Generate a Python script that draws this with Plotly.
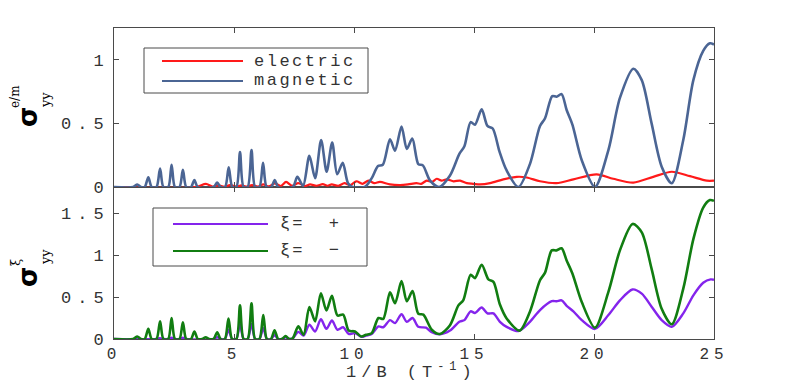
import plotly.graph_objects as go

# ---- top panel: sigma_yy^{e/m} ----
ele_x = [0.0, 3.4, 3.83, 4.1, 4.35, 4.6, 4.83, 5.1, 5.3, 5.55, 5.75, 6.0, 6.22, 6.45, 6.71,
         6.95, 7.17, 7.42, 7.68, 7.95, 8.17, 8.44, 8.7, 8.9, 9.07, 9.35, 9.6, 9.85, 10.1,
         10.35, 10.6, 10.85, 11.08, 11.5, 11.92, 12.25, 12.6, 12.8, 13.03, 13.25, 13.45,
         13.65, 13.86, 14.15, 14.42, 14.7, 14.97, 15.25, 15.67, 16.22, 16.78, 17.2, 17.75,
         18.44, 19.14, 20.11, 20.8, 21.64, 22.47, 23.24, 24.0, 24.7, 25.0]
ele_y = [0.0, 0.0, 0.025, 0.003, 0.012, 0.002, 0.015, 0.003, 0.012, 0.003, 0.015, 0.004,
         0.02, 0.005, 0.028, 0.008, 0.04, 0.01, 0.03, 0.008, 0.02, 0.01, 0.022, 0.01, 0.02,
         0.01, 0.03, 0.015, 0.045, 0.025, 0.05, 0.03, 0.04, 0.02, 0.015, 0.02, 0.03, 0.025,
         0.05, 0.04, 0.065, 0.05, 0.06, 0.045, 0.05, 0.03, 0.025, 0.02, 0.03, 0.06, 0.08,
         0.075, 0.045, 0.03, 0.06, 0.10, 0.065, 0.035, 0.08, 0.12, 0.085, 0.05, 0.05]

mag_x = [0.0, 0.8, 0.97, 1.12, 1.28, 1.43, 1.57, 1.77, 1.92, 2.06, 2.26, 2.40, 2.54, 2.73,
         2.87, 3.01, 3.21, 3.35, 3.49, 4.15, 4.30, 4.44, 4.63, 4.78, 4.93, 5.10, 5.25, 5.40,
         5.57, 5.73, 5.88, 6.06, 6.21, 6.36, 6.55, 6.70, 6.84, 7.45, 7.64, 7.88, 8.14, 8.38,
         8.63, 8.86, 9.09, 9.30, 9.53, 9.75, 9.95, 10.45, 10.74, 11.0, 11.2, 11.5, 11.71,
         11.98, 12.2, 12.43, 12.68, 12.87, 13.17, 13.55, 14.0, 14.39, 14.6, 14.86, 15.04,
         15.32, 15.56, 15.78, 16.06, 16.36, 16.85, 17.33, 17.75, 17.96, 18.26, 18.44, 18.65,
         18.86, 19.1, 19.49, 20.04, 20.6, 21.08, 21.64, 21.99, 22.4, 22.82, 23.24, 23.72,
         24.14, 24.55, 24.83, 25.0]
mag_y = [0.0, 0.0, 0.02, 0.0, 0.0, 0.077, 0.0, 0.0, 0.145, 0.0, 0.0, 0.175, 0.0, 0.0,
         0.135, 0.0, 0.0, 0.055, 0.0, 0.0, 0.035, 0.0, 0.0, 0.155, 0.0, 0.0, 0.275, 0.0,
         0.0, 0.29, 0.0, 0.0, 0.19, 0.0, 0.0, 0.055, 0.0, 0.0, 0.08, 0.01, 0.245, 0.07,
         0.37, 0.12, 0.35, 0.10, 0.19, 0.03, 0.0, 0.0, 0.07, 0.165, 0.175, 0.375, 0.285,
         0.475, 0.30, 0.38, 0.18, 0.17, 0.05, 0.0, 0.09, 0.26, 0.32, 0.51, 0.49, 0.61,
         0.48, 0.46, 0.28, 0.13, 0.0, 0.18, 0.48, 0.54, 0.715, 0.71, 0.73, 0.605, 0.49,
         0.21, 0.0, 0.29, 0.70, 0.93, 0.84, 0.50, 0.16, 0.03, 0.37, 0.84, 1.07, 1.13, 1.12]

# ---- bottom panel: sigma_yy^xi ----
plus_x = [0.0, 1.77, 1.92, 2.06, 2.26, 2.40, 2.54, 2.73, 2.87, 3.01, 4.15, 4.30, 4.44, 4.62,
          4.77, 4.92, 5.10, 5.25, 5.40, 5.57, 5.73, 5.88, 6.06, 6.22, 6.37, 6.54, 6.69, 6.84,
          7.0, 7.15, 7.3, 7.45, 7.68, 7.9, 8.14, 8.38, 8.62, 8.85, 9.08, 9.31, 9.55, 9.78,
          10.04, 10.32, 10.5, 10.74, 11.02, 11.22, 11.5, 11.71, 11.98, 12.2, 12.44, 12.68,
          13.0, 13.24, 13.58, 14.0, 14.39, 14.6, 14.86, 15.04, 15.32, 15.56, 15.81, 16.08,
          16.36, 16.85, 17.33, 17.75, 18.24, 18.44, 18.65, 18.86, 19.14, 19.49, 20.04, 20.6,
          21.08, 21.6, 21.99, 22.4, 22.82, 23.24, 23.72, 24.14, 24.55, 24.86, 25.0]
plus_y = [0.0, 0.0, 0.01, 0.0, 0.0, 0.015, 0.0, 0.0, 0.015, 0.0, 0.0, 0.02, 0.0, 0.0, 0.11,
          0.0, 0.0, 0.18, 0.0, 0.0, 0.18, 0.0, 0.0, 0.13, 0.0, 0.0, 0.045, 0.0, 0.0, 0.02,
          0.0, 0.01, 0.085, 0.04, 0.17, 0.09, 0.235, 0.12, 0.22, 0.11, 0.14, 0.06, 0.07,
          0.025, 0.04, 0.06, 0.15, 0.14, 0.225, 0.19, 0.295, 0.205, 0.25, 0.145, 0.135, 0.08,
          0.055, 0.10, 0.205, 0.225, 0.33, 0.31, 0.375, 0.305, 0.305, 0.205, 0.145, 0.095,
          0.205, 0.345, 0.45, 0.45, 0.46, 0.395, 0.33, 0.225, 0.12, 0.285, 0.46, 0.59, 0.54,
          0.385, 0.225, 0.145, 0.305, 0.52, 0.67, 0.71, 0.705]

minus_x = [0.0, 0.8, 0.97, 1.12, 1.28, 1.43, 1.57, 1.77, 1.92, 2.06, 2.26, 2.40, 2.54, 2.73,
           2.87, 3.01, 3.21, 3.35, 3.49, 3.68, 3.82, 3.96, 4.15, 4.30, 4.44, 4.62, 4.77, 4.92,
           5.10, 5.25, 5.40, 5.57, 5.73, 5.88, 6.06, 6.22, 6.37, 6.54, 6.69, 6.84, 7.0, 7.15,
           7.3, 7.45, 7.68, 7.9, 8.14, 8.38, 8.62, 8.85, 9.08, 9.31, 9.55, 9.78, 10.04, 10.3,
           10.5, 10.74, 11.02, 11.22, 11.5, 11.71, 11.98, 12.2, 12.44, 12.68, 12.89, 13.24,
           13.58, 14.0, 14.35, 14.55, 14.86, 15.04, 15.32, 15.6, 15.81, 16.08, 16.36, 16.9,
           17.33, 17.75, 17.96, 18.24, 18.44, 18.65, 18.86, 19.1, 19.49, 20.04, 20.6, 21.08,
           21.61, 21.99, 22.4, 22.82, 23.24, 23.72, 24.14, 24.55, 24.83, 25.0]
minus_y = [0.0, 0.0, 0.03, 0.0, 0.0, 0.12, 0.0, 0.0, 0.21, 0.0, 0.0, 0.25, 0.0, 0.0, 0.20,
           0.0, 0.0, 0.09, 0.0, 0.0, 0.02, 0.0, 0.0, 0.08, 0.0, 0.0, 0.245, 0.0, 0.0, 0.40,
           0.0, 0.0, 0.425, 0.0, 0.0, 0.285, 0.0, 0.0, 0.105, 0.0, 0.0, 0.035, 0.0, 0.01,
           0.15, 0.05, 0.38, 0.21, 0.545, 0.34, 0.515, 0.28, 0.29, 0.10, 0.09, 0.03, 0.05,
           0.07, 0.25, 0.24, 0.555, 0.425, 0.69, 0.45, 0.57, 0.30, 0.29, 0.11, 0.06, 0.165,
           0.40, 0.46, 0.765, 0.725, 0.885, 0.71, 0.68, 0.41, 0.245, 0.10, 0.325, 0.70, 0.79,
           1.055, 1.055, 1.08, 0.935, 0.78, 0.44, 0.135, 0.56, 1.055, 1.37, 1.27, 0.835, 0.36,
           0.175, 0.60, 1.19, 1.565, 1.655, 1.645]

x_ticks = [0, 5, 10, 15, 20, 25]
top_ticks = [0, 0.5, 1]
bot_ticks = [0, 0.5, 1, 1.5]

RED = "#ff1a1a"
BLUE = "#4b6594"
PURPLE = "#8424ec"
GREEN = "#117d11"
AXIS = "#4a4a4a"
TXT = "#333333"
MONO = "Liberation Mono, Courier New, monospace"

# plot area in window pixels; the page body adds an 8px margin
OFF = 8
L, R, T, B = 114, 714, 28, 339


def px(x):
    return (x - L) / (R - L)


def py(y):
    return (B - y) / (B - T)


def spaced(s, gap):
    return f"<span style='letter-spacing:{gap}px'>{s}</span>"


fig = go.Figure()

fig.add_trace(go.Scatter(x=ele_x, y=ele_y, mode="lines", line=dict(color=RED, width=2.2, shape="spline", smoothing=0.8),
                         xaxis="x2", yaxis="y2", name="electric"))
fig.add_trace(go.Scatter(x=mag_x, y=mag_y, mode="lines", line=dict(color=BLUE, width=2.6, shape="spline", smoothing=0.8),
                         xaxis="x2", yaxis="y2", name="magnetic"))
fig.add_trace(go.Scatter(x=plus_x, y=plus_y, mode="lines", line=dict(color=PURPLE, width=2.4, shape="spline", smoothing=0.8),
                         name="xi=+"))
fig.add_trace(go.Scatter(x=minus_x, y=minus_y, mode="lines", line=dict(color=GREEN, width=2.6, shape="spline", smoothing=0.8),
                         name="xi=-"))

axis_common = dict(
    showline=True, linecolor=AXIS, linewidth=1, mirror="ticks",
    ticks="inside", ticklen=5, tickcolor=AXIS,
    showgrid=False, zeroline=False,
    tickfont=dict(family=MONO, size=17, color=TXT),
)

split = (B - 187) / (B - T)

fig.update_layout(
    width=789 - OFF, height=382 - OFF,
    margin=dict(l=L - OFF, r=789 - R, t=T - OFF, b=382 - B, autoexpand=False),
    paper_bgcolor="white", plot_bgcolor="white",
    showlegend=False,
    xaxis=dict(domain=[0, 1], range=[0, 25], anchor="y",
               tickvals=x_ticks, ticktext=[spaced(str(v), 5) for v in x_ticks], **axis_common),
    yaxis=dict(domain=[0, split], range=[0, 1.81], anchor="x",
               tickvals=bot_ticks, ticktext=[spaced(f"{v:g}", 6) for v in bot_ticks], **axis_common),
    xaxis2=dict(domain=[0, 1], range=[0, 25], anchor="y2", matches="x",
                tickvals=x_ticks, showticklabels=False, **axis_common),
    yaxis2=dict(domain=[split, 1], range=[0, 1.25], anchor="x2",
                tickvals=top_ticks, ticktext=[spaced(f"{v:g}", 6) for v in top_ticks], **axis_common),
)
fig.update_xaxes(tickfont_size=16, selector=dict(anchor="y"))

ann = []
# x axis title
ann.append(dict(x=px(411), y=py(371), text=spaced("1/B (T<sup>-1</sup>)", 5),
                font=dict(family=MONO, size=17, color=TXT)))
# y axis titles (rotated)
ann.append(dict(x=px(28), y=py(117), text="<b>σ</b>", textangle=-90,
                font=dict(family="DejaVu Sans", size=26, color="black")))
ann.append(dict(x=px(15), y=py(97), text="e/m", textangle=-90,
                font=dict(family="DejaVu Serif", size=12, color="black")))
ann.append(dict(x=px(45), y=py(100), text="yy", textangle=-90,
                font=dict(family="DejaVu Serif", size=13, color="black")))
ann.append(dict(x=px(28), y=py(277), text="<b>σ</b>", textangle=-90,
                font=dict(family="DejaVu Sans", size=26, color="black")))
ann.append(dict(x=px(15), y=py(263), text="ξ", textangle=-90,
                font=dict(family="DejaVu Serif", size=13, color="black")))
ann.append(dict(x=px(45), y=py(257), text="yy", textangle=-90,
                font=dict(family="DejaVu Serif", size=13, color="black")))

shapes = []
# hand-made legends (long line samples like the original)
legends = [
    (144, 368, 48, 93, 162, 243, 252, [(61, RED, "electric"), (81, BLUE, "magnetic")], 2.5),
    (153, 367, 208, 266, 173, 268, 278, [(224, PURPLE, "ξ=  +"), (251, GREEN, "ξ=  −")], 2.0),
]
for x0, x1, y0, y1, lx0, lx1, tx, rows, gap in legends:
    shapes.append(dict(type="rect", xref="paper", yref="paper", x0=px(x0), x1=px(x1), y0=py(y1), y1=py(y0),
                       line=dict(color=AXIS, width=1), fillcolor="white", layer="below"))
    for ry, col, label in rows:
        shapes.append(dict(type="line", xref="paper", yref="paper", x0=px(lx0), x1=px(lx1), y0=py(ry), y1=py(ry),
                           line=dict(color=col, width=2)))
        ann.append(dict(x=px(tx), y=py(ry), xanchor="left", text=spaced(label, gap),
                        font=dict(family=MONO, size=17, color=TXT)))

for a in ann:
    a.update(xref="paper", yref="paper", showarrow=False)
    a.setdefault("xanchor", "center")
    a.setdefault("yanchor", "middle")

fig.update_layout(annotations=ann, shapes=shapes)

fig.write_html("out.html")
